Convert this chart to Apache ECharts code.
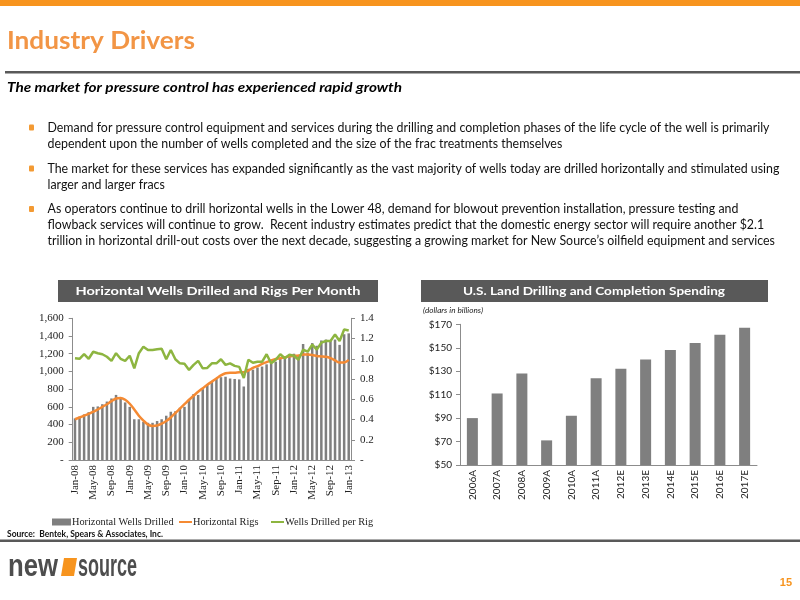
<!DOCTYPE html>
<html>
<head>
<meta charset="utf-8">
<script src="https://cdn.jsdelivr.net/npm/echarts@6/dist/echarts.min.js"></script>
<style>
  html, body { margin: 0; padding: 0; background: #fff; }
  #slide { width: 800px; height: 600px; }
</style>
</head>
<body>
<div id="slide"></div>
<script>
const months = ('Jan-08 Feb-08 Mar-08 Apr-08 May-08 Jun-08 Jul-08 Aug-08 Sep-08 Oct-08 Nov-08 Dec-08 ' +
  'Jan-09 Feb-09 Mar-09 Apr-09 May-09 Jun-09 Jul-09 Aug-09 Sep-09 Oct-09 Nov-09 Dec-09 ' +
  'Jan-10 Feb-10 Mar-10 Apr-10 May-10 Jun-10 Jul-10 Aug-10 Sep-10 Oct-10 Nov-10 Dec-10 ' +
  'Jan-11 Feb-11 Mar-11 Apr-11 May-11 Jun-11 Jul-11 Aug-11 Sep-11 Oct-11 Nov-11 Dec-11 ' +
  'Jan-12 Feb-12 Mar-12 Apr-12 May-12 Jun-12 Jul-12 Aug-12 Sep-12 Oct-12 Nov-12 Dec-12 ' +
  'Jan-13').split(' ');

const wellsDrilled = [
  470, 490, 515, 540, 600, 605, 630, 660, 695, 735, 690, 650,
  600, 460, 460, 430, 420, 420, 440, 460, 500, 545, 550, 590,
  600, 680, 745, 735, 800, 850, 885, 920, 935, 940, 920, 915,
  910, 830, 1030, 1020, 1045, 1055, 1080, 1090, 1110, 1140, 1160, 1190,
  1200, 1180, 1310, 1210, 1320, 1290, 1350, 1360, 1355, 1360, 1300, 1420,
  1430
];
const horizontalRigs = [
  460, 480, 500, 520, 545, 570, 600, 630, 665, 695, 700, 680,
  635, 570, 500, 445, 400, 385, 390, 410, 440, 480, 530, 580,
  630, 680, 725, 770, 810, 850, 885, 920, 955, 980, 985, 985,
  990, 990, 1010, 1040, 1060, 1085, 1105, 1125, 1140, 1150, 1160, 1170,
  1175, 1180, 1190, 1190, 1185, 1175, 1170, 1165, 1150, 1125, 1100, 1100,
  1130
];
const wellsPerRig = [
  1.005, 1.0, 1.045, 1.0, 1.07, 1.055, 1.045, 1.02, 0.98, 1.055, 1.0, 0.98,
  1.03, 0.906, 1.055, 1.12, 1.087, 1.087, 1.094, 1.10, 0.995, 1.087, 0.995, 0.955,
  0.95, 0.89, 0.94, 0.98, 0.906, 0.91, 0.955, 0.955, 0.995, 0.94, 0.955, 0.93,
  0.92, 0.81, 0.99, 0.96, 0.97, 0.97, 1.045, 0.955, 0.99, 1.045, 1.005, 1.04,
  1.03, 0.99, 1.09, 1.07, 1.14, 1.09, 1.16, 1.176, 1.176, 1.24, 1.176, 1.29,
  1.28
];

const spendYears = ['2006A', '2007A', '2008A', '2009A', '2010A', '2011A', '2012E', '2013E', '2014E', '2015E', '2016E', '2017E'];
const spending = [90, 111, 128, 71, 92, 124, 132, 140, 148, 154, 161, 167];

const bullets = [
  ['Demand for pressure control equipment and services during the drilling and completion phases of the life cycle of the well is primarily',
   'dependent upon the number of wells completed and the size of the frac treatments themselves'],
  ['The market for these services has expanded significantly as the vast majority of wells today are drilled horizontally and stimulated using',
   'larger and larger fracs'],
  ['As operators continue to drill horizontal wells in the Lower 48, demand for blowout prevention installation, pressure testing and',
   'flowback services will continue to grow.  Recent industry estimates predict that the domestic energy sector will require another $2.1',
   'trillion in horizontal drill-out costs over the next decade, suggesting a growing market for New Source\u2019s oilfield equipment and services']
];

const ORANGE = '#F7941E';
const DARK = '#595959';
const SANS = 'Lato';
const SERIF = 'Liberation Serif';

// canvas measure, used to squeeze Lato down to the narrower slide font
const measureCtx = document.createElement('canvas').getContext('2d');
function fitScale(text, font, width) {
  measureCtx.font = font;
  return width / measureCtx.measureText(text).width;
}

function textEl(x, y, text, opts) {
  const size = opts.size || 12;
  const weight = opts.weight || 'normal';
  const fstyle = opts.fontStyle || 'normal';
  const family = opts.family || SANS;
  let sx = 1;
  if (opts.width) sx = fitScale(text, fstyle + ' ' + weight + ' ' + size + 'px ' + family, opts.width);
  if (opts.scale) sx = opts.scale;
  return {
    type: 'text', x: x, y: y, scaleX: sx, silent: true,
    style: {
      text: text, fill: opts.color || '#000',
      fontSize: size, fontWeight: weight, fontStyle: fstyle, fontFamily: family,
      textAlign: opts.align || 'left', textVerticalAlign: 'middle'
    }
  };
}

function commas(v) {
  return String(v).replace(/\B(?=(\d{3})+(?!\d))/g, ',');
}

const graphics = [
  { type: 'rect', silent: true, shape: { x: 0, y: 0, width: 800, height: 6 }, style: { fill: ORANGE } },
  textEl(7, 41, 'Industry Drivers', { size: 25, weight: 'bold', color: '#F29545', width: 188 }),
  { type: 'rect', silent: true, shape: { x: 5, y: 71, width: 795, height: 2.5 }, style: { fill: DARK } },
  textEl(7, 87, 'The market for pressure control has experienced rapid growth', { size: 14, weight: 'bold', fontStyle: 'italic', width: 395 }),
  { type: 'rect', silent: true, shape: { x: 0, y: 539.5, width: 800, height: 2.5 }, style: { fill: DARK } },
  { type: 'rect', silent: true, shape: { x: 58, y: 280, width: 320, height: 22 }, style: { fill: DARK } },
  { type: 'rect', silent: true, shape: { x: 421, y: 280, width: 347, height: 22 }, style: { fill: DARK } },
  textEl(218, 291, 'Horizontal Wells Drilled and Rigs Per Month', { size: 12, weight: 'bold', color: '#fff', width: 285, align: 'center' }),
  textEl(594, 291, 'U.S. Land Drilling and Completion Spending', { size: 12, weight: 'bold', color: '#fff', width: 262, align: 'center' }),
  textEl(423, 311, '(dollars in billions)', { size: 7.5, fontStyle: 'italic', color: '#222', width: 60 }),
  textEl(7, 534, 'Source:  Bentek, Spears & Associates, Inc.', { size: 8.5, weight: 'bold', color: '#111', width: 156 }),
  textEl(8, 567, 'new', { size: 32, weight: 'bold', family: 'Liberation Sans', color: '#4D4D4D', width: 50 }),
  { type: 'polygon', silent: true, shape: { points: [[64, 558], [77, 558], [74, 576], [61, 576]] }, style: { fill: ORANGE } },
  textEl(78, 567, 'source', { size: 32, weight: 'bold', family: 'Liberation Sans', color: '#4D4D4D', width: 59 }),
  textEl(792, 583, '15', { size: 11, weight: 'bold', family: 'Liberation Sans', color: ORANGE, align: 'right' })
];

// bullets: one common squeeze taken from the first (longest) line
const bulletScale = fitScale(bullets[0][0], 'normal normal 12.5px ' + SANS, 722);
const bulletTops = [127.5, 168.5, 209];
bullets.forEach((lines, b) => {
  graphics.push({ type: 'rect', silent: true, shape: { x: 29, y: bulletTops[b] - 3, width: 5, height: 6, r: 1 }, style: { fill: '#F39A33' } });
  lines.forEach((line, k) => {
    graphics.push(textEl(47.5, bulletTops[b] + k * 16, line, { size: 12.5, color: '#111', scale: bulletScale }));
  });
});

const axisGray = '#8C8C8C';
const serifLabel = { fontFamily: SERIF, fontSize: 11, color: '#222' };
const legendText = { fontFamily: SERIF, fontSize: 10.3, color: '#222', padding: [0, 0, 0, -4] };

// one legend per item so each swatch sits where the slide has it
function legendItem(name, left, w, h) {
  return { left: left, top: 512, itemWidth: w, itemHeight: h, icon: 'rect', textStyle: legendText, data: [name] };
}

const chart = echarts.init(document.getElementById('slide'), null, { renderer: 'canvas' });
chart.setOption({
  animation: false,
  backgroundColor: '#fff',
  graphic: graphics,
  legend: [
    legendItem('Horizontal Wells Drilled', 47, 19, 7),
    legendItem('Horizontal Rigs', 174, 13, 2),
    legendItem('Wells Drilled per Rig', 266, 13, 2)
  ],
  grid: [
    { left: 72.7, right: 449, top: 318.3, bottom: 140 },
    { left: 460, right: 43, top: 324.3, bottom: 135 }
  ],
  xAxis: [
    {
      type: 'category', gridIndex: 0, data: months,
      axisLine: { lineStyle: { color: axisGray } },
      axisTick: { interval: 3, length: 4, lineStyle: { color: axisGray } },
      axisLabel: Object.assign({ interval: 3, rotate: 90, margin: 5 }, serifLabel)
    },
    {
      type: 'category', gridIndex: 1, data: spendYears,
      axisLine: { lineStyle: { color: axisGray } },
      axisTick: { length: 4, lineStyle: { color: axisGray } },
      axisLabel: { rotate: 90, margin: 5, fontFamily: SANS, fontSize: 10, color: '#222' }
    }
  ],
  yAxis: [
    {
      type: 'value', gridIndex: 0, min: 0, max: 1600, interval: 200,
      axisLine: { show: true, lineStyle: { color: axisGray } },
      axisTick: { show: true, length: 4, lineStyle: { color: axisGray } },
      splitLine: { show: false },
      axisLabel: Object.assign({ margin: 9, formatter: v => v === 0 ? '-' : commas(v) }, serifLabel)
    },
    {
      type: 'value', gridIndex: 0, position: 'right', min: 0, max: 1.4, interval: 0.2,
      axisLine: { show: true, lineStyle: { color: axisGray } },
      axisTick: { show: true, length: 4, lineStyle: { color: axisGray } },
      splitLine: { show: false },
      axisLabel: Object.assign({ margin: 9, formatter: v => v === 0 ? '-' : v.toFixed(1) }, serifLabel)
    },
    {
      type: 'value', gridIndex: 1, min: 50, max: 170, interval: 20,
      axisLine: { show: true, lineStyle: { color: axisGray } },
      axisTick: { show: true, length: 4, lineStyle: { color: axisGray } },
      splitLine: { show: false },
      axisLabel: { margin: 8, fontFamily: SANS, fontSize: 10, color: '#222', formatter: v => '$' + v }
    }
  ],
  series: [
    {
      name: 'Horizontal Wells Drilled', type: 'bar', xAxisIndex: 0, yAxisIndex: 0,
      data: wellsDrilled, barWidth: 2.5, itemStyle: { color: '#7F7F7F' }
    },
    {
      name: 'Horizontal Rigs', type: 'line', xAxisIndex: 0, yAxisIndex: 0,
      data: horizontalRigs, symbol: 'none', smooth: 0.3,
      itemStyle: { color: '#F58A33' }, lineStyle: { width: 2.5, color: '#F58A33' }
    },
    {
      name: 'Wells Drilled per Rig', type: 'line', xAxisIndex: 0, yAxisIndex: 1,
      data: wellsPerRig, symbol: 'none',
      itemStyle: { color: '#8DB540' }, lineStyle: { width: 2.5, color: '#8DB540' }
    },
    {
      name: 'Spending', type: 'bar', xAxisIndex: 1, yAxisIndex: 2,
      data: spending, barWidth: 11, itemStyle: { color: '#7F7F7F' }
    }
  ]
});
</script>
</body>
</html>
